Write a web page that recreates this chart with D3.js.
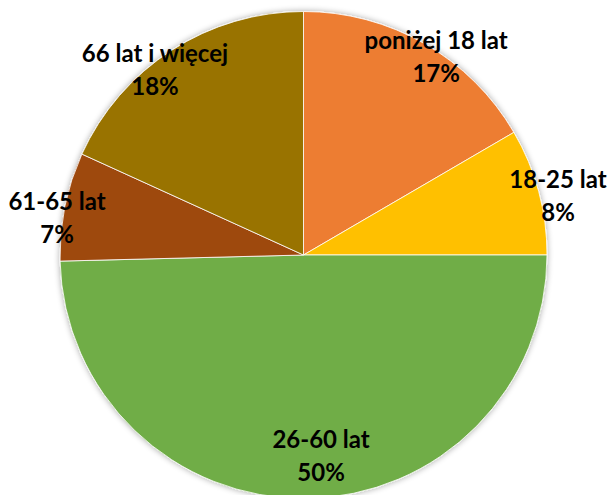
<!DOCTYPE html>
<html><head><meta charset="utf-8">
<script src="https://cdn.jsdelivr.net/npm/d3@7"></script>
<style>html,body{margin:0;padding:0;background:#fff;overflow:hidden}</style>
</head><body>
<svg id="chart" width="610" height="495"></svg>
<script>
const categories = ["poniżej 18 lat", "18-25 lat", "26-60 lat", "61-65 lat", "66 lat i więcej"];
const values = [16.6, 8.4, 49.6, 7.2, 18.2];
const percentLabels = ["17%", "8%", "50%", "7%", "18%"];
const colors = ["#ED7D31", "#FFC000", "#70AD47", "#9E480E", "#997300"];

// layout (not data): label nudges from the label-arc centroid
const labelNudge = [[15, 7], [26.5, 2.6], [14.6, -35], [-15, 10], [-20.7, 13.6]];

const W = 610, H = 495;
const cx = 303.5, cy = 255, R = 243.5;
const svg = d3.select("#chart");

const defs = svg.append("defs");
const f = defs.append("filter").attr("id", "sh").attr("x", "-10%").attr("y", "-10%").attr("width", "120%").attr("height", "120%");
f.append("feGaussianBlur").attr("in", "SourceAlpha").attr("stdDeviation", 3).attr("result", "b");
f.append("feOffset").attr("in", "b").attr("dx", 0).attr("dy", 0).attr("result", "o");
f.append("feComponentTransfer").attr("in", "o").attr("result", "t")
  .append("feFuncA").attr("type", "linear").attr("slope", 0.35);
const m = f.append("feMerge");
m.append("feMergeNode").attr("in", "t");
m.append("feMergeNode").attr("in", "SourceGraphic");

const data = categories.map((c, i) => ({cat: c, value: values[i], pct: percentLabels[i], color: colors[i], i}));
const pie = d3.pie().value(d => d.value).sort(null);
const arcs = pie(data);
const arc = d3.arc().innerRadius(0).outerRadius(R);
const labelArc = d3.arc().innerRadius(R * 0.97).outerRadius(R * 0.97);

const g = svg.append("g").attr("transform", `translate(${cx},${cy})`);
g.append("g").attr("filter", "url(#sh)")
  .selectAll("path").data(arcs).join("path")
  .attr("d", arc)
  .attr("fill", d => d.data.color)
  .attr("stroke", "#fff").attr("stroke-width", 0.8);

const lbl = g.selectAll("text.lbl").data(arcs).join("text")
  .attr("class", "lbl")
  .attr("text-anchor", "middle")
  .attr("font-family", "Lato, 'Open Sans', sans-serif")
  .attr("font-weight", "bold")
  .attr("font-size", 24)
  .attr("fill", "#000")
  .attr("transform", d => {
    const [x, y] = labelArc.centroid(d);
    const n = labelNudge[d.index];
    return `translate(${x + n[0]},${y + n[1]})`;
  });
lbl.append("tspan").attr("x", 0).attr("y", -8).text(d => d.data.cat);
lbl.append("tspan").attr("x", 0).attr("y", 25).text(d => d.data.pct);
</script>
</body></html>
